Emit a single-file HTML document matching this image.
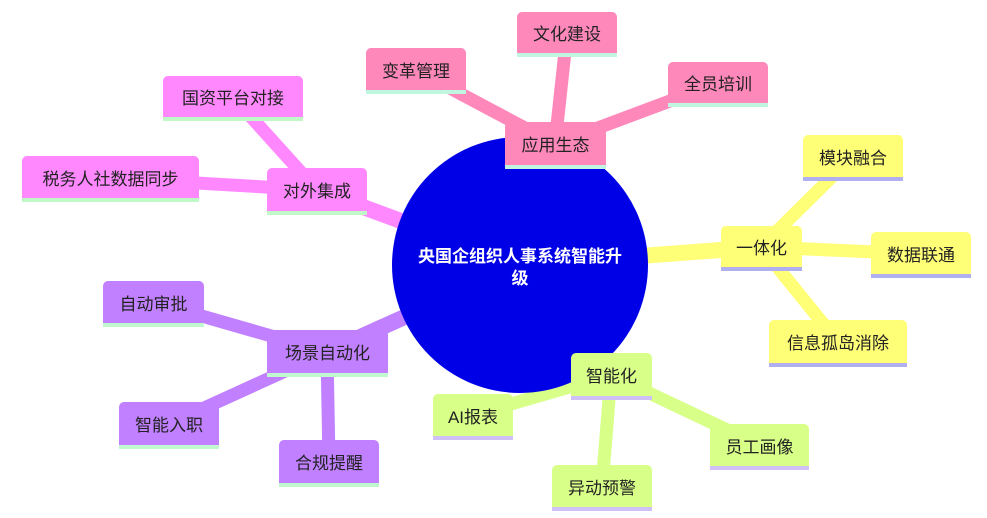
<!DOCTYPE html>
<html><head><meta charset="utf-8"><style>
body{margin:0;width:987px;height:518px;overflow:hidden;background:#fff;font-family:"Liberation Sans","Noto Sans CJK SC",sans-serif;}
.n{position:absolute;box-sizing:border-box;border-radius:5px 5px 0 0;display:flex;align-items:center;justify-content:center;font-size:17px;color:#222;border-bottom:4px solid #c0f5e0;}
.p{background:#ff88bb}.m{background:#ff88ff;border-bottom-color:#c0f8c8}.y{background:#ffff77;border-bottom-color:#b0b0f0}.g{background:#d8ff88;border-bottom-color:#d0c0f8}.v{background:#c080ff;border-bottom-color:#c0f8d0}
</style></head><body>
<svg width="987" height="518" style="position:absolute;left:0;top:0" stroke-linecap="butt">
<g stroke="#ff88bb" stroke-width="13">
<line x1="555" y1="144" x2="567" y2="33"/><line x1="555" y1="144" x2="416" y2="70"/><line x1="555" y1="144" x2="718" y2="83"/>
<line x1="520" y1="265" x2="555" y2="144" stroke-width="16"/></g>
<g stroke="#ff88ff" stroke-width="13">
<line x1="317" y1="190" x2="233" y2="97"/><line x1="317" y1="190" x2="110" y2="178"/>
<line x1="520" y1="265" x2="317" y2="190" stroke-width="16"/></g>
<g stroke="#ffff77" stroke-width="13">
<line x1="761" y1="247" x2="853" y2="156"/><line x1="761" y1="247" x2="921" y2="254"/><line x1="761" y1="247" x2="838" y2="342"/>
<line x1="520" y1="265" x2="761" y2="247" stroke-width="16"/></g>
<g stroke="#d8ff88" stroke-width="13">
<line x1="611" y1="375" x2="473" y2="415"/><line x1="611" y1="375" x2="759" y2="445"/><line x1="611" y1="375" x2="602" y2="486"/>
<line x1="520" y1="265" x2="611" y2="375" stroke-width="16"/></g>
<g stroke="#c080ff" stroke-width="13">
<line x1="327" y1="352" x2="153" y2="302"/><line x1="327" y1="352" x2="169" y2="424"/><line x1="327" y1="352" x2="329" y2="462"/>
<line x1="520" y1="265" x2="327" y2="352" stroke-width="16"/></g>
<circle cx="520" cy="265" r="128" fill="#0000e6"/>
<text x="520" y="262" fill="#fff" font-size="17" font-weight="bold" text-anchor="middle" font-family="Liberation Sans,Noto Sans CJK SC,sans-serif">央国企组织人事系统智能升</text>
<text x="520" y="284" fill="#fff" font-size="17" font-weight="bold" text-anchor="middle" font-family="Liberation Sans,Noto Sans CJK SC,sans-serif">级</text>
</svg>
<div class="n p" style="left:505px;top:122px;width:101px;height:47px">应用生态</div>
<div class="n p" style="left:517px;top:12px;width:100px;height:45px">文化建设</div>
<div class="n p" style="left:366px;top:48px;width:100px;height:46px">变革管理</div>
<div class="n p" style="left:668px;top:62px;width:100px;height:45px">全员培训</div>
<div class="n m" style="left:267px;top:168px;width:100px;height:47px">对外集成</div>
<div class="n m" style="left:163px;top:76px;width:140px;height:45px">国资平台对接</div>
<div class="n m" style="left:22px;top:156px;width:177px;height:46px">税务人社数据同步</div>
<div class="n y" style="left:721px;top:226px;width:81px;height:45px">一体化</div>
<div class="n y" style="left:803px;top:135px;width:100px;height:46px">模块融合</div>
<div class="n y" style="left:871px;top:232px;width:100px;height:46px">数据联通</div>
<div class="n y" style="left:769px;top:320px;width:138px;height:47px">信息孤岛消除</div>
<div class="n g" style="left:571px;top:353px;width:81px;height:47px">智能化</div>
<div class="n g" style="left:433px;top:394px;width:80px;height:46px">AI报表</div>
<div class="n g" style="left:710px;top:424px;width:99px;height:46px">员工画像</div>
<div class="n g" style="left:552px;top:465px;width:100px;height:46px">异动预警</div>
<div class="n v" style="left:267px;top:330px;width:121px;height:47px">场景自动化</div>
<div class="n v" style="left:103px;top:281px;width:101px;height:46px">自动审批</div>
<div class="n v" style="left:119px;top:402px;width:100px;height:47px">智能入职</div>
<div class="n v" style="left:279px;top:440px;width:100px;height:47px">合规提醒</div>
</body></html>
